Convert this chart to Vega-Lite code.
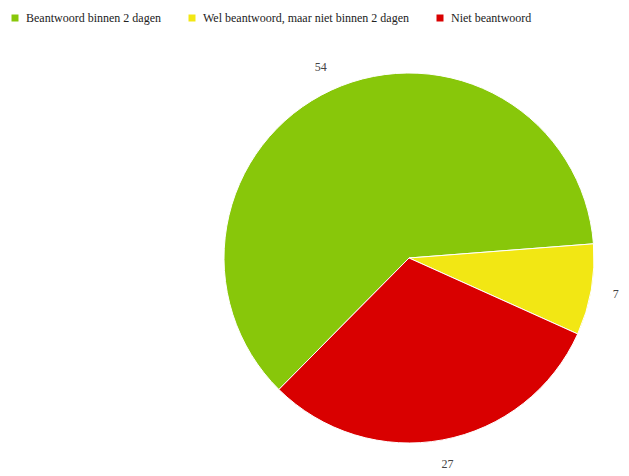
{
  "$schema": "https://vega.github.io/schema/vega-lite/v6.json",
  "width": 370,
  "height": 370,
  "autosize": {"type": "none"},
  "padding": {"left": 224, "top": 73, "right": 35, "bottom": 33},
  "background": "white",
  "data": {
    "values": [
      {"cat": "Beantwoord binnen 2 dagen", "value": 54, "order": 1},
      {"cat": "Wel beantwoord, maar niet binnen 2 dagen", "value": 7, "order": 2},
      {"cat": "Niet beantwoord", "value": 27, "order": 3}
    ]
  },
  "encoding": {
    "theta": {"field": "value", "type": "quantitative", "stack": true, "scale": {"range": [3.9217, 10.2049]}},
    "order": {"field": "order", "type": "quantitative"},
    "color": {
      "field": "cat",
      "type": "nominal",
      "sort": ["Beantwoord binnen 2 dagen", "Wel beantwoord, maar niet binnen 2 dagen", "Niet beantwoord"],
      "scale": {
        "domain": ["Beantwoord binnen 2 dagen", "Wel beantwoord, maar niet binnen 2 dagen", "Niet beantwoord"],
        "range": ["#88c70a", "#f2e714", "#d90000"]
      },
      "legend": {
        "orient": "none",
        "legendX": -215,
        "legendY": -61,
        "direction": "horizontal",
        "columns": 3,
        "title": null,
        "symbolType": "square",
        "symbolSize": 49,
        "symbolStrokeWidth": 0,
        "symbolOpacity": 1,
        "labelFont": "Liberation Serif, Times New Roman, serif",
        "labelFontSize": 12,
        "labelColor": "#222222",
        "labelOffset": 5,
        "columnPadding": 25,
        "labelLimit": 400
      }
    }
  },
  "layer": [
    {"mark": {"type": "arc", "outerRadius": 185, "stroke": "white", "strokeWidth": 1}},
    {
      "mark": {"type": "text", "radius": 210, "font": "Liberation Serif, Times New Roman, serif", "fontSize": 12, "align": "center", "baseline": "middle"},
      "encoding": {
        "text": {"field": "value", "type": "quantitative"},
        "color": {"value": "#444444"}
      }
    }
  ],
  "config": {"view": {"stroke": null}, "font": "Liberation Serif"}
}
